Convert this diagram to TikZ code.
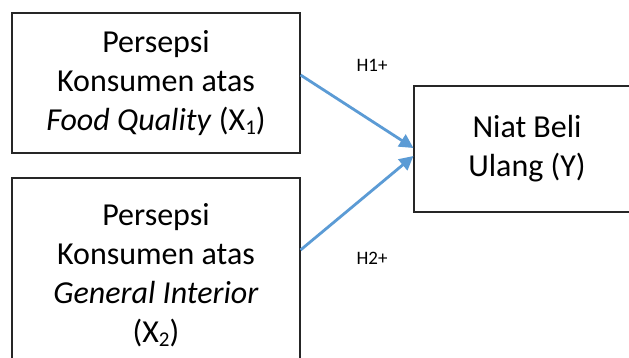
\documentclass[tikz,border=0pt]{standalone}
\usepackage{fontspec}
\setmainfont{Carlito}
\usetikzlibrary{arrows.meta,calc}
\definecolor{arrowblue}{HTML}{5B9BD5}
\newcommand{\subnum}[1]{\raisebox{-0.12em}{\fontsize{21}{21}\selectfont #1}}
\tikzset{
  varbox/.style={draw=black!85, line width=1.1pt, align=center, inner sep=0pt,
    font=\fontsize{32}{39}\selectfont},
  hyp/.style={font=\fontsize{19}{22}\selectfont},
  link/.style={draw=arrowblue, line width=2.8pt, -{Triangle[length=14pt,width=14pt]}}
}
\begin{document}
\begin{tikzpicture}[x=1pt,y=1pt]
\useasboundingbox (0,0) rectangle (629,358);
\clip (0,0) rectangle (629,358);
\fill[white] (0,0) rectangle (629,358);
\node[varbox, minimum width=288pt, minimum height=140pt] (fq) at (156,275)
  {Persepsi\\Konsumen atas\\\textit{Food Quality} (X\subnum{1})};
\node[varbox, minimum width=288pt, minimum height=194pt] (gi) at (156,83)
  {Persepsi\\Konsumen atas\\\textit{General Interior}\\(X\subnum{2})};
\node[varbox, minimum width=226pt, minimum height=126pt] (ny) at (527,209)
  {Niat Beli\\Ulang (Y)};
\draw[link] ($(fq.east)+(0,8)$) -- ($(ny.west)+(0,1)$);
\draw[link] ($(gi.east)+(0,25)$) -- ($(ny.west)+(0,-7)$);
\node[hyp] (h1) at (372,293) {H1+};
\node[hyp] (h2) at (372,100) {H2+};
\end{tikzpicture}
\end{document}
